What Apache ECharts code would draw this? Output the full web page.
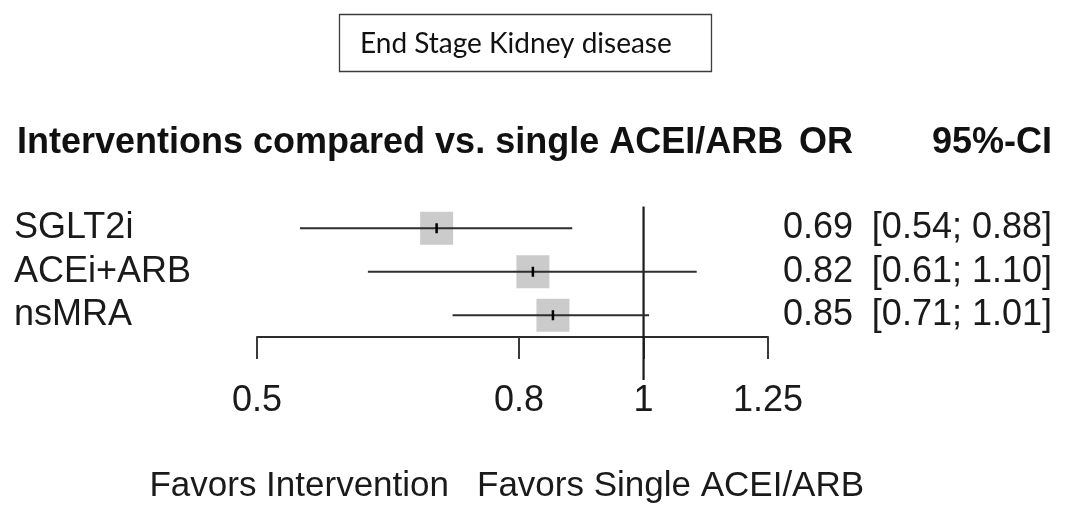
<!DOCTYPE html>
<html>
<head>
<meta charset="utf-8">
<script src="https://cdn.jsdelivr.net/npm/echarts@6/dist/echarts.min.js"></script>
<style>
html,body{margin:0;padding:0;background:#fff;}
#chart{width:1068px;height:506px;}
</style>
</head>
<body>
<div id="chart"></div>
<script>
// ---- data ----
var chartTitle = 'End Stage Kidney disease';
var headerLabel = 'Interventions compared vs. single ACEI/ARB';
var headerOR = 'OR';
var headerCI = '95%-CI';
var categories = ['SGLT2i', 'ACEi+ARB', 'nsMRA'];
var orValues = [0.69, 0.82, 0.85];
var ciLower = [0.54, 0.61, 0.71];
var ciUpper = [0.88, 1.10, 1.01];
var tickValues = [0.5, 0.8, 1, 1.25];
var axisMin = 0.5;
var axisMax = 1.25;
var refValue = 1;
var labelLeft = 'Favors Intervention';
var labelRight = 'Favors Single ACEI/ARB';

var FONT = "'Liberation Sans', Arial, sans-serif";
var chart = echarts.init(document.getElementById('chart'), null, {renderer: 'canvas'});

var rows = categories.map(function (c, i) {
  return [orValues[i], i, ciLower[i], ciUpper[i]];
});

var BOX = 33;

function catAxis(pos, labelOpts) {
  return {
    type: 'category', data: categories, inverse: true, position: pos,
    axisLine: {show: false}, axisTick: {show: false}, splitLine: {show: false},
    axisLabel: Object.assign({show: true, interval: 0, hideOverlap: false,
                              fontFamily: FONT, fontSize: 36, color: '#1a1a1a'}, labelOpts)
  };
}

var option = {
  animation: false,
  backgroundColor: '#ffffff',
  grid: {left: 257, right: 300, top: 206.5, height: 130.5, containLabel: false},
  xAxis: {
    type: 'log',
    min: axisMin,
    max: axisMax,
    axisLine: {show: true, lineStyle: {color: '#2b2b2b', width: 2}},
    axisTick: {show: true, length: 22, inside: false, customValues: tickValues,
               lineStyle: {color: '#3a3a3a', width: 2}},
    axisLabel: {show: true, customValues: tickValues, margin: 46,
                fontFamily: FONT, fontSize: 36, color: '#1a1a1a',
                formatter: function (v) { return String(v); }},
    splitLine: {show: false},
    minorTick: {show: false}
  },
  yAxis: [
    catAxis('left', {align: 'left', margin: 243, padding: [8, 0, 0, 0]}),
    catAxis('right', {align: 'right', margin: 85, padding: [4, 0, 0, 0],
                      formatter: function (v, i) { return orValues[i].toFixed(2); }}),
    catAxis('right', {align: 'right', margin: 284, padding: [4, 0, 0, 0],
                      formatter: function (v, i) {
                        return '[' + ciLower[i].toFixed(2) + '; ' + ciUpper[i].toFixed(2) + ']';
                      }})
  ],
  series: [
    {
      type: 'custom',
      coordinateSystem: 'cartesian2d',
      xAxisIndex: 0, yAxisIndex: 0,
      clip: false,
      data: [[refValue, 0]],
      renderItem: function (params, api) {
        var p = api.coord([api.value(0), 0]);
        var cs = params.coordSys;
        return {
          type: 'line',
          shape: {x1: p[0], y1: cs.y, x2: p[0], y2: cs.y + cs.height + 43},
          style: {stroke: '#1a1a1a', lineWidth: 2.2}
        };
      }
    },
    {
      type: 'custom',
      coordinateSystem: 'cartesian2d',
      xAxisIndex: 0, yAxisIndex: 0,
      clip: false,
      data: rows,
      encode: {x: 0, y: 1},
      renderItem: function (params, api) {
        var c = api.coord([api.value(0), api.value(1)]);
        var lo = api.coord([api.value(2), api.value(1)]);
        var hi = api.coord([api.value(3), api.value(1)]);
        return {
          type: 'group',
          children: [
            {type: 'rect', shape: {x: c[0] - BOX / 2, y: c[1] - BOX / 2, width: BOX, height: BOX},
             style: {fill: '#cbcbcb'}},
            {type: 'line', shape: {x1: lo[0], y1: c[1], x2: hi[0], y2: c[1]},
             style: {stroke: '#2e2e2e', lineWidth: 2.2}},
            {type: 'line', shape: {x1: c[0], y1: c[1] - 5, x2: c[0], y2: c[1] + 5},
             style: {stroke: '#000000', lineWidth: 2.5}}
          ]
        };
      }
    }
  ],
  graphic: [
    {type: 'rect', shape: {x: 339.5, y: 14.5, width: 372, height: 57},
     style: {fill: '#ffffff', stroke: '#3c3c3c', lineWidth: 1.3}},
    {type: 'text', x: 360, y: 44,
     style: {text: chartTitle, font: "28px Lato, 'Open Sans', sans-serif", fill: '#111111',
             textAlign: 'left', textVerticalAlign: 'middle'}},
    {type: 'text', x: 17, y: 143,
     style: {text: headerLabel, font: "bold 36px " + FONT, fill: '#111111',
             textAlign: 'left', textVerticalAlign: 'middle'}},
    {type: 'text', x: 853, y: 143,
     style: {text: headerOR, font: "bold 36px " + FONT, fill: '#111111',
             textAlign: 'right', textVerticalAlign: 'middle'}},
    {type: 'text', x: 1052, y: 143,
     style: {text: headerCI, font: "bold 36px " + FONT, fill: '#111111',
             textAlign: 'right', textVerticalAlign: 'middle'}},
    {type: 'text', x: 449, y: 486,
     style: {text: labelLeft, font: "35px " + FONT, fill: '#1a1a1a',
             textAlign: 'right', textVerticalAlign: 'middle'}},
    {type: 'text', x: 477, y: 486,
     style: {text: labelRight, font: "35px " + FONT, fill: '#1a1a1a',
             textAlign: 'left', textVerticalAlign: 'middle'}}
  ]
};
chart.setOption(option);
</script>
</body>
</html>
